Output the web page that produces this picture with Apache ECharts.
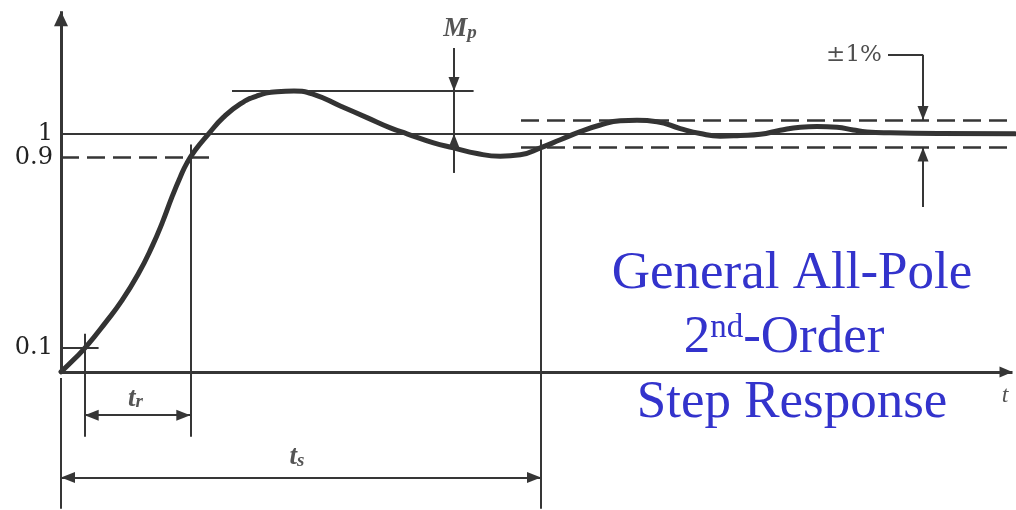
<!DOCTYPE html>
<html>
<head>
<meta charset="utf-8">
<script src="https://cdn.jsdelivr.net/npm/echarts@6/dist/echarts.min.js"></script>
<style>
  html, body { margin: 0; padding: 0; background: #ffffff; }
  #chart { width: 1016px; height: 510px; }
</style>
</head>
<body>
<div id="chart"></div>
<script>
// Sampled step response: time (arbitrary units) and normalised output
const times = [0, 0.133, 0.26, 0.443, 0.61, 0.776, 0.91, 1.01, 1.11, 1.193, 1.26, 1.343, 1.476,
  1.623, 1.793, 1.96, 2.16, 2.33, 2.526, 2.793, 3.06, 3.293, 3.46, 3.726, 3.926, 4.16, 4.393,
  4.593, 4.8, 4.993, 5.193, 5.393, 5.593, 5.76, 5.96, 6.193, 6.393, 6.593, 6.793, 6.993, 7.193,
  7.393, 7.56, 7.76, 7.923, 8.06, 8.293, 8.793, 9.54];
const response = [0, 0.054, 0.11, 0.206, 0.3, 0.414, 0.526, 0.624, 0.735, 0.819, 0.878, 0.932, 1.0,
  1.069, 1.126, 1.159, 1.177, 1.18, 1.166, 1.117, 1.068, 1.025, 1.0, 0.962, 0.941, 0.917, 0.906,
  0.912, 0.942, 0.975, 1.009, 1.037, 1.055, 1.057, 1.051, 1.022, 1.001, 0.99, 0.993, 0.998, 1.015,
  1.028, 1.031, 1.028, 1.016, 1.008, 1.004, 1.001, 1.0];

// Levels labelled on the vertical axis
const yTickValues = [0.1, 0.9, 1];

// Characteristic instants and levels of the response
const lowLevel = 0.1;
const highLevel = 0.9;
const finalValue = 1;
const peakValue = 1.18;
const riseStartTime = 0.237;
const riseEndTime = 1.293;
const settlingTime = 4.8;
const overshootTime = 3.93;
const bandUpper = 1.058;
const bandLower = 0.942;

// Caption text
const captionLines = ['General All-Pole', '2nd-Order', 'Step Response'];

// ---------------------------------------------------------------------------
const T_MAX = 9.55, Y_MIN = -0.58, Y_MAX = 1.52;
const ink = '#363636';
const thin = { color: ink, width: 2, type: 'solid' };
const axisStroke = { color: ink, width: 3, type: 'solid' };
const dashed = { color: ink, width: 2.5, type: [18, 8] };
const plain = { symbol: 'none' };
const head = { symbol: 'triangle', symbolSize: [11, 14], symbolOffset: [0, '50%'] };

function seg(x1, y1, x2, y2, style, fromEnd, toEnd) {
  return [
    Object.assign({ coord: [x1, y1], lineStyle: style }, fromEnd || plain),
    Object.assign({ coord: [x2, y2], lineStyle: style }, toEnd || plain)
  ];
}

const tEnd = 9.54;
const yBottom = -0.575;
const dimRise = -0.182;
const dimSettle = -0.443;
const mpTop = 1.36, mpBottom = 0.836;
const pctTime = 8.62, pctLeft = 8.27, pctTop = 1.332, pctBottom = 0.693;

const guideLines = [
  // axes
  seg(0, 0, 0, 1.515, axisStroke, plain, { symbol: 'triangle', symbolSize: [14, 15], symbolOffset: [0, '50%'] }),
  seg(0, -0.026, 0, yBottom, thin),
  seg(0, 0, 9.515, 0, axisStroke, plain, { symbol: 'triangle', symbolSize: [11, 13], symbolOffset: [0, '50%'] }),
  // final value, 10% and 90% levels
  seg(0, finalValue, tEnd, finalValue, thin),
  seg(0, highLevel, 1.53, highLevel, dashed),
  seg(0, lowLevel, 0.376, lowLevel, thin),
  // rise-time markers and dimension
  seg(riseStartTime, 0.16, riseStartTime, -0.272, thin),
  seg(riseEndTime, 0.955, riseEndTime, -0.272, thin),
  seg(riseStartTime, dimRise, riseEndTime, dimRise, thin, head, head),
  // settling-time marker and dimension
  seg(settlingTime, 0.976, settlingTime, yBottom, thin),
  seg(0, dimSettle, settlingTime, dimSettle, thin, head, head),
  // overshoot
  seg(1.71, peakValue, 4.126, peakValue, thin),
  seg(overshootTime, mpTop, overshootTime, mpBottom, thin),
  seg(overshootTime, mpTop, overshootTime, peakValue, thin, plain, head),
  seg(overshootTime, mpBottom, overshootTime, finalValue, thin, plain, head),
  // settling band
  seg(4.6, bandUpper, tEnd, bandUpper, dashed),
  seg(4.6, bandLower, tEnd, bandLower, dashed),
  seg(pctLeft, pctTop, pctTime, pctTop, thin),
  seg(pctTime, pctTop, pctTime, bandUpper, thin, plain, head),
  seg(pctTime, pctBottom, pctTime, bandLower, thin, plain, head)
];

const italic = { fontFamily: '"Liberation Serif"', fontStyle: 'italic', fontWeight: 'bold', color: '#2a2a2a' };
const annotations = [
  { value: [3.99, 1.44], text: '{m|M}{s|p}' },
  { value: [9.44, -0.1], text: '{t|t}' },
  { value: [0.745, -0.112], text: '{m|t}{s|r}' },
  { value: [2.36, -0.357], text: '{m|t}{s|s}' },
  { value: [7.93, 1.33], text: '{pc|±1%}' }
];

const chart = echarts.init(document.getElementById('chart'), null, { renderer: 'canvas' });
chart.setOption({
  backgroundColor: '#ffffff',
  animation: false,
  grid: { left: 61, right: 0, top: 10, bottom: 0 },
  xAxis: {
    type: 'value', min: 0, max: T_MAX, show: false
  },
  yAxis: {
    type: 'value', min: Y_MIN, max: Y_MAX,
    axisLine: { show: false }, axisTick: { show: false }, splitLine: { show: false },
    axisLabel: {
      customValues: yTickValues,
      margin: 8,
      fontFamily: '"DejaVu Serif"', fontSize: 24, color: '#222222',
      formatter: v => String(v)
    }
  },
  graphic: [
    {
      type: 'text', x: 792, y: 274, silent: true,
      style: { text: captionLines[0], fill: '#3333cc', font: '53px "Liberation Serif"',
        align: 'center', verticalAlign: 'middle', textAlign: 'center', textVerticalAlign: 'middle' }
    },
    {
      type: 'text', x: 784, y: 338, silent: true,
      style: {
        text: '{n|2}{s|nd}{n|-Order}',
        fill: '#3333cc',
        align: 'center', verticalAlign: 'middle', textAlign: 'center', textVerticalAlign: 'middle',
        rich: {
          n: { fontFamily: '"Liberation Serif"', fontSize: 53, lineHeight: 53, fill: '#3333cc' },
          s: { fontFamily: '"Liberation Serif"', fontSize: 33, lineHeight: 33, verticalAlign: 'top', fill: '#3333cc' }
        }
      }
    },
    {
      type: 'text', x: 792, y: 403, silent: true,
      style: { text: captionLines[2], fill: '#3333cc', font: '53px "Liberation Serif"',
        align: 'center', verticalAlign: 'middle', textAlign: 'center', textVerticalAlign: 'middle' }
    }
  ],
  series: [
    {
      name: 'guides', type: 'line', data: [], z: 1, silent: true,
      markLine: {
        silent: true, animation: false,
        symbol: ['none', 'none'],
        label: { show: false },
        emphasis: { disabled: true },
        lineStyle: thin,
        data: guideLines
      }
    },
    {
      name: 'response', type: 'line', z: 3, silent: true,
      data: times.map((t, i) => [t, response[i]]),
      showSymbol: false, symbol: 'none',
      smooth: 0.5,
      lineStyle: { color: '#333333', width: 5, cap: 'round', join: 'round' }
    },
    {
      name: 'annotations', type: 'scatter', z: 4, silent: true,
      symbolSize: 0,
      data: annotations.map(a => ({ value: a.value, text: a.text })),
      label: {
        show: true, position: 'inside',
        formatter: p => p.data.text,
        rich: {
          m: Object.assign({ fontSize: 27, lineHeight: 27 }, italic),
          s: Object.assign({ fontSize: 19, lineHeight: 12, verticalAlign: 'bottom' }, italic),
          t: Object.assign({ fontSize: 24, lineHeight: 24 }, italic, { fontWeight: 'normal' }),
          pc: { fontFamily: '"DejaVu Serif"', fontSize: 23, color: '#222222' }
        }
      }
    }
  ]
});
</script>
</body>
</html>
